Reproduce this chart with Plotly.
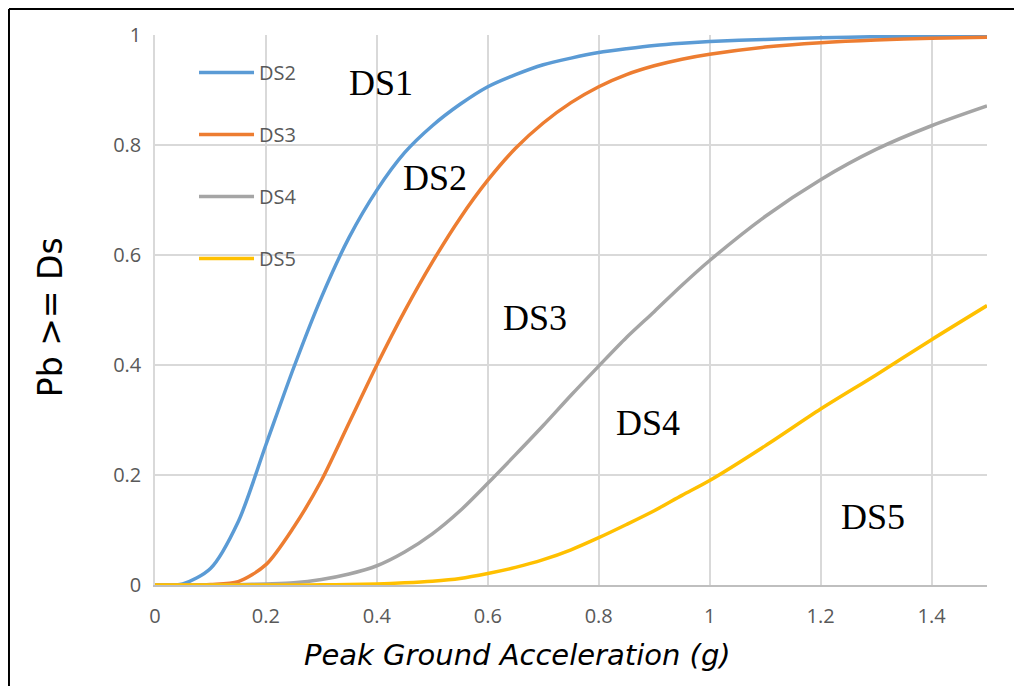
import plotly.graph_objects as go

pga = [0, 0.05, 0.1, 0.15, 0.2, 0.25, 0.3, 0.35, 0.4, 0.45, 0.5, 0.55, 0.6, 0.65,
       0.7, 0.75, 0.8, 0.85, 0.9, 0.95, 1.0, 1.1, 1.2, 1.3, 1.4, 1.5]

ds2 = [0, 0.002, 0.03, 0.115, 0.255, 0.395, 0.523, 0.632, 0.718, 0.786, 0.835, 0.874,
       0.906, 0.928, 0.946, 0.958, 0.968, 0.975, 0.981, 0.985, 0.988, 0.992, 0.995,
       0.997, 0.998, 0.999]
ds3 = [0, 0, 0.001, 0.006, 0.037, 0.105, 0.19, 0.295, 0.40, 0.498, 0.587, 0.667, 0.736,
       0.794, 0.840, 0.877, 0.906, 0.928, 0.944, 0.956, 0.965, 0.978, 0.986, 0.991,
       0.994, 0.996]
ds4 = [0, 0, 0, 0.0005, 0.002, 0.004, 0.01, 0.02, 0.035, 0.06, 0.093, 0.135, 0.185,
       0.237, 0.29, 0.345, 0.398, 0.45, 0.497, 0.545, 0.59, 0.67, 0.737, 0.792,
       0.835, 0.871]
ds5 = [0, 0, 0, 0, 0, 0, 0.0003, 0.001, 0.002, 0.004, 0.007, 0.012, 0.021, 0.032,
       0.046, 0.064, 0.086, 0.11, 0.135, 0.163, 0.19, 0.253, 0.32, 0.382, 0.446,
       0.508]

series_names = ["DS2", "DS3", "DS4", "DS5"]
series_values = [ds2, ds3, ds4, ds5]
colors = ["#5b9bd5", "#ed7d31", "#a5a5a5", "#ffc000"]

label_texts = ["DS1", "DS2", "DS3", "DS4", "DS5"]
label_x = [0.407, 0.505, 0.685, 0.889, 1.294]
label_y = [0.913, 0.74, 0.485, 0.295, 0.124]

x_ticks = [0, 0.2, 0.4, 0.6, 0.8, 1.0, 1.2, 1.4]
y_ticks = [0, 0.2, 0.4, 0.6, 0.8, 1.0]

fig = go.Figure()
for name, vals, col in zip(series_names, series_values, colors):
    fig.add_trace(go.Scatter(
        x=pga, y=vals, mode="lines", name=name, legendgroup=name,
        line=dict(color=col, width=3.5, shape="spline", smoothing=0.8),
    ))

for t, lx, ly in zip(label_texts, label_x, label_y):
    fig.add_annotation(x=lx, y=ly, xref="x", yref="y", text=t, showarrow=False,
                       xanchor="center", yanchor="middle",
                       font=dict(family="Liberation Serif", size=36, color="black"))

fig.add_annotation(x=0.654, y=-0.127, xref="x", yref="paper",
                   text="Peak Ground Acceleration (g)", showarrow=False,
                   xanchor="center", yanchor="middle",
                   font=dict(family="DejaVu Sans", size=29, color="black", style="italic"))
fig.add_annotation(x=-0.1262, y=0.487, xref="paper", yref="y", text="Pb >= Ds",
                   showarrow=False, textangle=-90, xanchor="center", yanchor="middle",
                   font=dict(family="DejaVu Sans", size=33, color="black"))

# white legend panel (over gridlines, under traces)
fig.add_shape(type="rect", xref="paper", yref="paper", x0=0.0276, x1=0.1863,
              y0=0.54, y1=0.9909, layer="between", fillcolor="white",
              line=dict(width=0))

# outer frame (left and top edges)
fig.add_shape(type="line", xref="paper", yref="paper", x0=-0.1755, x1=-0.1755,
              y0=1.0473, y1=-0.2, line=dict(color="black", width=2))
fig.add_shape(type="line", xref="paper", yref="paper", x0=-0.1755, x1=1.05,
              y0=1.0473, y1=1.0473, line=dict(color="black", width=2))

fig.update_layout(
    width=1014, height=678,
    margin=dict(l=147, r=35, t=27, b=101),
    paper_bgcolor="white", plot_bgcolor="white",
    font=dict(family="Open Sans", color="#595959"),
    showlegend=True,
    legend=dict(x=0.0469, y=0.9672, xanchor="left", yanchor="top",
                bgcolor="rgba(0,0,0,0)", font=dict(family="Open Sans", size=20, color="#595959"),
                traceorder="grouped", tracegroupgap=33, itemwidth=55),
    xaxis=dict(range=[0, 1.5], tickvals=x_ticks, showgrid=True, gridcolor="#d9d9d9",
               gridwidth=1.5, zeroline=False, showline=True, linecolor="#bfbfbf",
               linewidth=1.5, tickfont=dict(size=20, color="#595959"),
               ticks="", ticklabelstandoff=12),
    yaxis=dict(range=[0, 1], tickvals=y_ticks, showgrid=True, gridcolor="#d9d9d9",
               gridwidth=1.5, zeroline=False, showline=True, linecolor="#d9d9d9",
               linewidth=1.5, tickfont=dict(size=20, color="#595959"),
               ticks="", ticklabelstandoff=8),
)

fig.write_html("out.html")
